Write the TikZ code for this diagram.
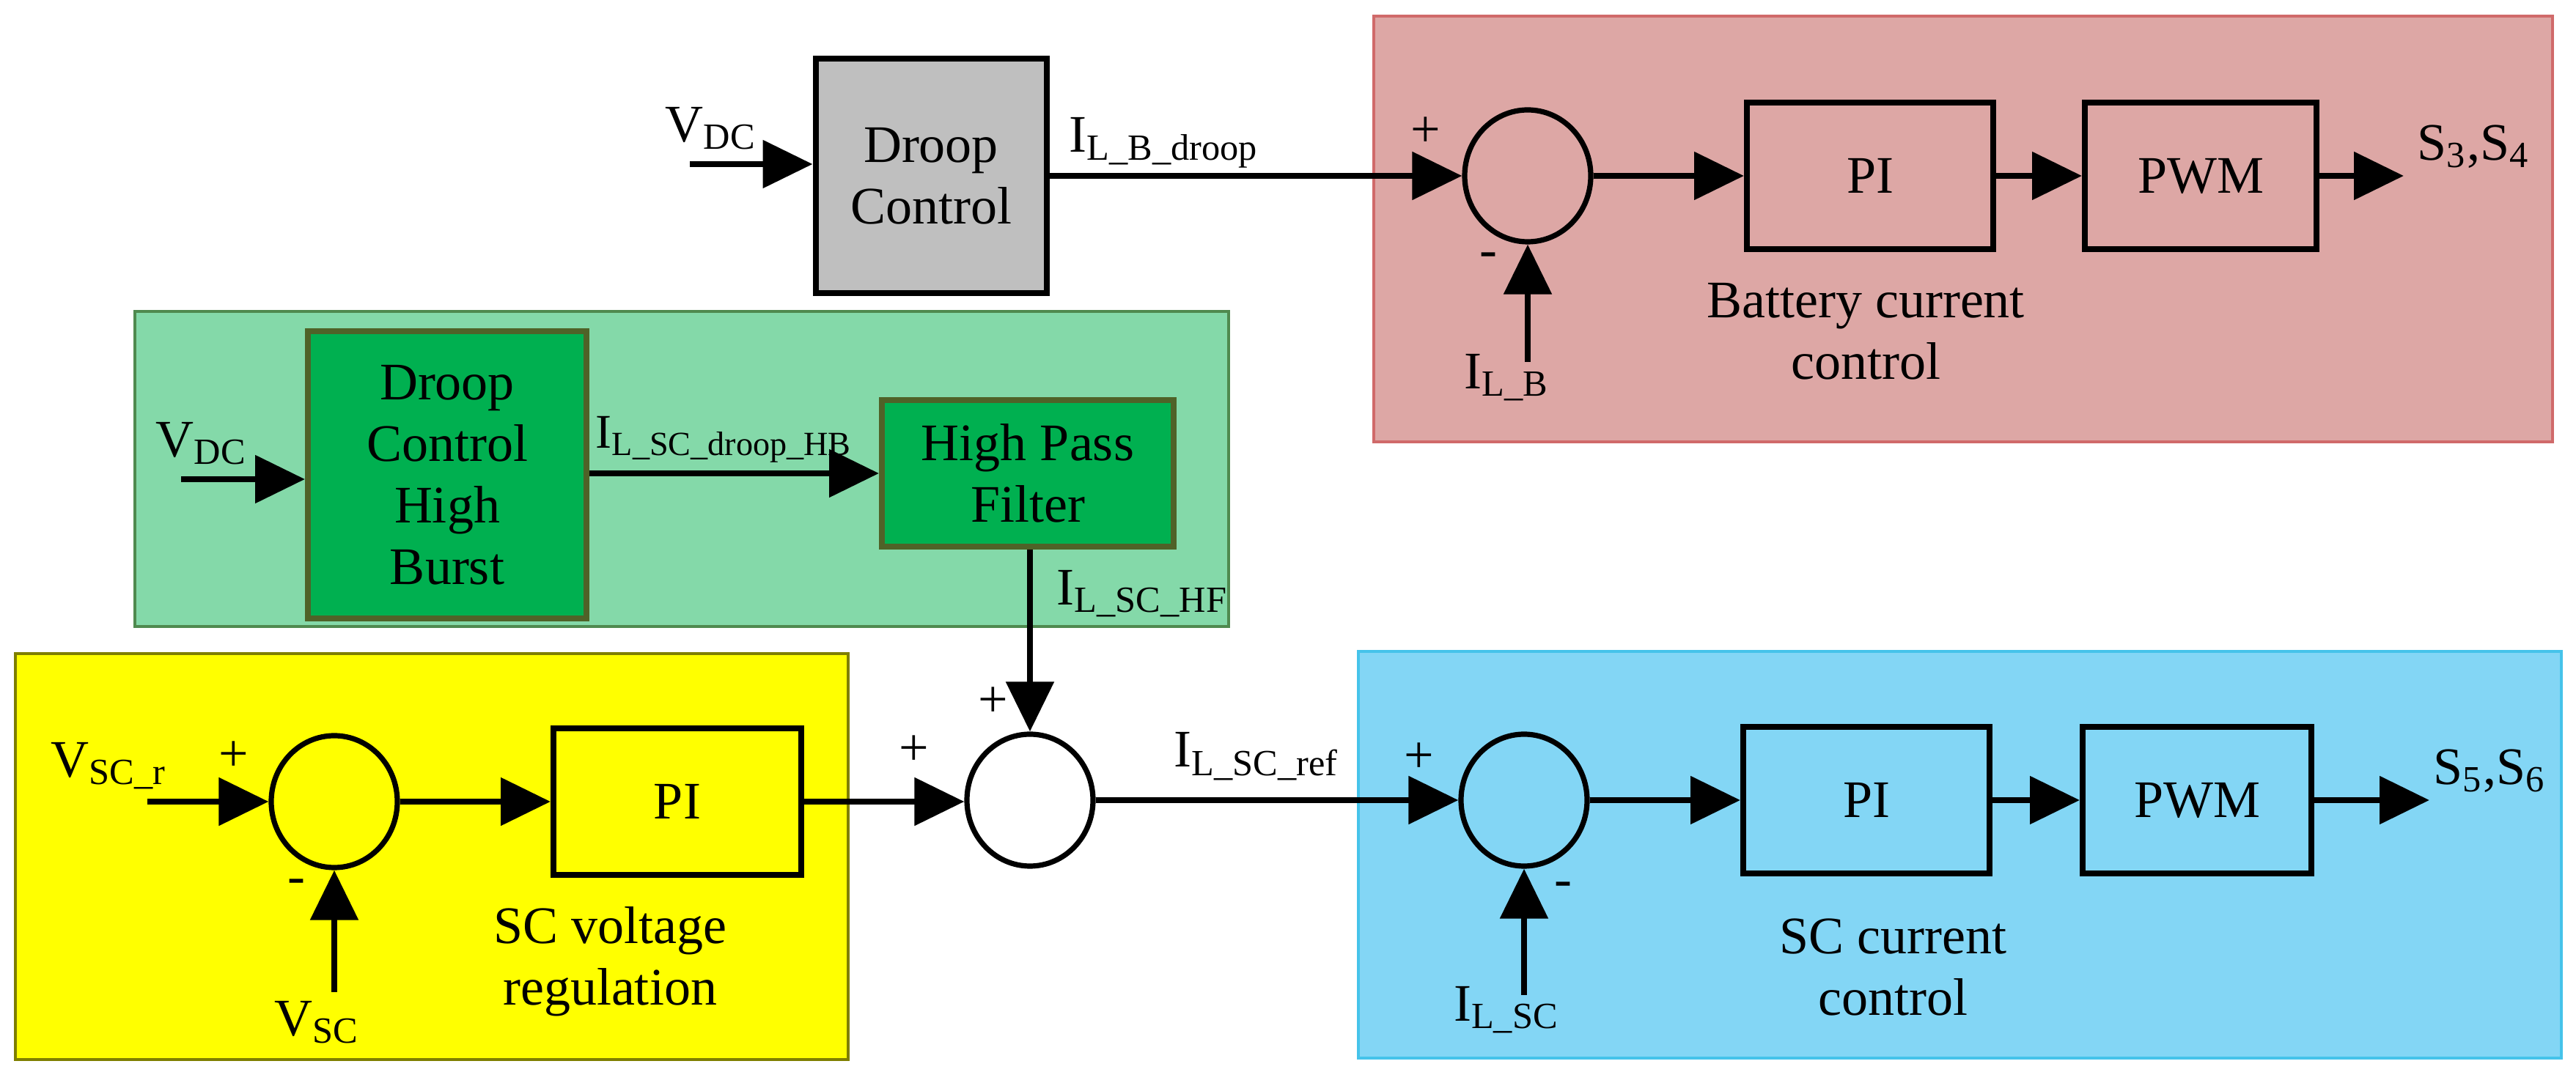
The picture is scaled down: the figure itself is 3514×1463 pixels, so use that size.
\documentclass[tikz,border=0pt]{standalone}
\usepackage{fontspec}
\setmainfont{Liberation Serif}
\usetikzlibrary{arrows.meta,shapes.geometric}
\definecolor{redp}{HTML}{DDA7A5}\definecolor{redb}{HTML}{D06A6A}
\definecolor{grnp}{HTML}{84D9A9}\definecolor{grnb}{HTML}{4F8A4F}
\definecolor{grnbox}{HTML}{00B050}\definecolor{grnboxb}{HTML}{4F6228}
\definecolor{ylw}{HTML}{FFFF00}\definecolor{ylwb}{HTML}{7F7F00}
\definecolor{bluep}{HTML}{83D6F5}\definecolor{blueb}{HTML}{45C3EA}
\definecolor{gry}{HTML}{BFBFBF}
\begin{document}
\begin{tikzpicture}[x=0.25pt,y=-0.25pt,
  every node/.style={font=\fontsize{18}{21}\selectfont},
  blk/.style={draw=black,line width=2pt,minimum height=50pt,inner sep=0pt,align=center},
  sum/.style={draw=black,line width=1.8pt,ellipse,minimum width=43pt,minimum height=45pt,inner sep=0pt},
  sig/.style={line width=2.2pt,-{Triangle[length=17pt,width=16pt]}},
  lbl/.style={inner sep=0pt}]
\useasboundingbox (0,0) rectangle (3514,1463);
% panels
\fill[redp,draw=redb,line width=1pt] (1874,22) rectangle (3482,603);
\fill[grnp,draw=grnb,line width=1.2pt] (184,425) rectangle (1676,855);
\fill[ylw,draw=ylwb,line width=1.2pt] (21,892) rectangle (1157,1446);
\fill[bluep,draw=blueb,line width=1pt] (1853,889) rectangle (3494,1444);
% top branch
\node[blk,fill=gry,minimum width=78.75pt,minimum height=80pt] (gray) at (1270,240) {Droop\\Control};
\node[sum] (s4) at (2084,240) {};
\node[blk,minimum width=84pt] (pi3) at (2551,240) {PI};
\node[blk,minimum width=79pt] (pwm3) at (3002,240) {PWM};
\coordinate (vdc1) at (941,224);
\coordinate (ilb) at (2084,494);
\coordinate (s34) at (3279,240);
\draw[sig] (vdc1) -- (vdc1 -| gray.west);
\draw[sig] (gray.east) -- (s4.west);
\draw[sig] (ilb) -- (s4.south);
\draw[sig] (s4.east) -- (pi3.west);
\draw[sig] (pi3.east) -- (pwm3.west);
\draw[sig] (pwm3.east) -- (s34);
\node[lbl,anchor=west] (l1) at (907,175) {V\textsubscript{DC}};
\node[lbl,anchor=west] (l2) at (1458,195) {I\textsubscript{L\_B\_droop}};
\node[lbl] (p4) at (1945,180) {+};
\node[lbl] (m4) at (2030,355) {-};
\node[lbl] (l3) at (2055,515) {I\textsubscript{L\_B}};
\node[lbl,anchor=west] (l4) at (3297,200) {S\textsubscript{3},S\textsubscript{4}};
\node[lbl,align=center] (t1) at (2545,452) {Battery current\\control};
% green branch
\node[blk,draw=grnboxb,fill=grnbox,minimum width=95pt,minimum height=98pt] (dchb) at (610,648) {Droop\\Control\\High\\Burst};
\node[blk,draw=grnboxb,fill=grnbox,minimum width=99.5pt,minimum height=50pt] (hpf) at (1402,646) {High Pass\\Filter};
\coordinate (vdc2) at (247,654);
\draw[sig] (vdc2) -- (vdc2 -| dchb.west);
\draw[sig] (dchb.east |- hpf.west) -- (hpf.west);
\node[lbl,anchor=west] (l5) at (212,605) {V\textsubscript{DC}};
\node[lbl,anchor=west,font=\fontsize{16.5}{20}\selectfont] (l6) at (812,600) {I\textsubscript{L\_SC\_droop\_HB}};
\node[lbl,anchor=west] (l7) at (1441,810) {I\textsubscript{L\_SC\_HF}};
% yellow branch
\node[sum] (s1) at (456,1094) {};
\node[blk,minimum width=84.5pt] (pi1) at (924,1094) {PI};
\node[sum] (s2) at (1405,1092) {};
\coordinate (vscr) at (201,1094);
\coordinate (vsc) at (456,1354);
\draw[sig] (vscr) -- (s1.west);
\draw[sig] (vsc) -- (s1.south);
\draw[sig] (s1.east) -- (pi1.west);
\draw[sig] (pi1.east) -- (pi1.east -| s2.west);
\draw[sig] (s2.north |- hpf.south) -- (s2.north);
\node[lbl,anchor=west] (l8) at (69,1045) {V\textsubscript{SC\_r}};
\node[lbl] (p1) at (319,1032) {+};
\node[lbl] (m1) at (404,1210) {-};
\node[lbl] (l9) at (432,1395) {V\textsubscript{SC}};
\node[lbl,align=center] (t2) at (832,1312) {SC voltage\\regulation};
\node[lbl] (p2a) at (1355,958) {+};
\node[lbl] (p2b) at (1247,1024) {+};
\node[lbl,anchor=west] (l10) at (1601,1032) {I\textsubscript{L\_SC\_ref}};
% blue branch
\node[sum] (s3) at (2079,1092) {};
\node[blk,minimum width=84pt] (pi2) at (2546,1092) {PI};
\node[blk,minimum width=78pt] (pwm2) at (2997,1092) {PWM};
\coordinate (ilsc) at (2079,1358);
\coordinate (s56) at (3314,1092);
\draw[sig] (s2.east) -- (s3.west);
\draw[sig] (ilsc) -- (s3.south);
\draw[sig] (s3.east) -- (pi2.west);
\draw[sig] (pi2.east) -- (pwm2.west);
\draw[sig] (pwm2.east) -- (s56);
\node[lbl] (p3) at (1936,1034) {+};
\node[lbl] (m3) at (2132,1214) {-};
\node[lbl] (l11) at (2055,1378) {I\textsubscript{L\_SC}};
\node[lbl,anchor=west] (l12) at (3319,1052) {S\textsubscript{5},S\textsubscript{6}};
\node[lbl,align=center] (t3) at (2582,1320) {SC current\\control};
\end{tikzpicture}
\end{document}
